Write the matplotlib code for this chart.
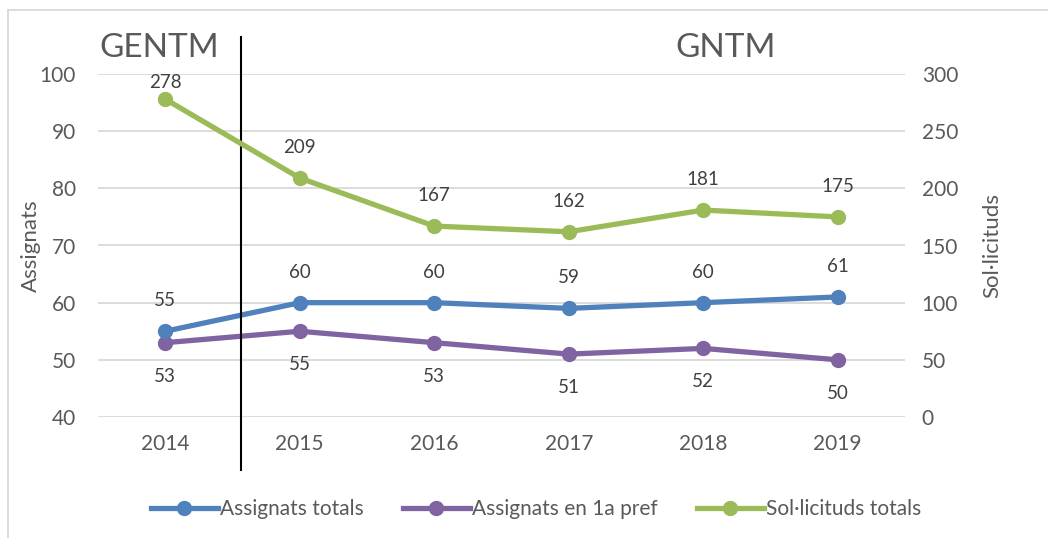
import numpy as np
import matplotlib.pyplot as plt
from matplotlib.lines import Line2D

years = ['2014', '2015', '2016', '2017', '2018', '2019']
assignats_totals = [55, 60, 60, 59, 60, 61]
assignats_1a_pref = [53, 55, 53, 51, 52, 50]
sollicituds_totals = [278, 209, 167, 162, 181, 175]

BLUE = '#4F81BD'
PURPLE = '#8064A2'
GREEN = '#9BBB59'
TXT = '#595959'
GRID = '#D9D9D9'

plt.rcParams['font.family'] = ['Lato', 'DejaVu Sans']

fig = plt.figure(figsize=(10.48, 5.38), dpi=100)
ax = fig.add_axes([98 / 1048, 1 - 417 / 538, 807 / 1048, 343 / 538])
ax2 = ax.twinx()

x = np.arange(len(years))

ax.set_xlim(-0.5, len(years) - 0.5)
ax.set_ylim(40, 100)
ax.set_yticks(range(40, 101, 10))
ax2.set_ylim(0, 300)
ax2.set_yticks(range(0, 301, 50))
ax.set_xticks(x)
ax.set_xticklabels(years)

ax.grid(axis='y', color=GRID, lw=1.3)
ax.set_axisbelow(True)
for a in (ax, ax2):
    for s in a.spines.values():
        s.set_visible(False)
    a.tick_params(length=0, labelsize=15, colors=TXT)
ax.tick_params(axis='x', pad=12)
ax.tick_params(axis='y', pad=16)
ax2.tick_params(axis='y', pad=12)

ax.set_ylabel('Assignats', fontsize=16, color=TXT)
ax2.set_ylabel('Sol·licituds', fontsize=16, color=TXT)
ax.yaxis.set_label_coords((41 - 98) / 807, 0.5)
ax2.yaxis.set_label_coords((982 - 98) / 807, 0.5)

kw = dict(lw=3.8, marker='o', markersize=10, solid_capstyle='round', clip_on=False)
ax.plot(x, assignats_totals, color=BLUE, zorder=4, **kw)
ax.plot(x, assignats_1a_pref, color=PURPLE, zorder=3, **kw)
ax2.plot(x, sollicituds_totals, color=GREEN, zorder=3, **kw)

lab = dict(ha='center', va='center', fontsize=13.5, color='#404040', textcoords='offset points')
for i in x:
    ax.annotate(str(assignats_totals[i]), (i, assignats_totals[i]), xytext=(0, 22), **lab)
    ax.annotate(str(assignats_1a_pref[i]), (i, assignats_1a_pref[i]), xytext=(0, -24), **lab)
    dy = 12 if i == 0 else 22
    ax2.annotate(str(sollicituds_totals[i]), (i, sollicituds_totals[i]), xytext=(0, dy), **lab)

# separator between GENTM and GNTM
ax.axvline(0.565, ymin=(470 - 417) / -343, ymax=(417 - 37) / 343, color='black', lw=1.5,
           clip_on=False, zorder=5)
fig.text(99 / 1048, 1 - 48 / 538, 'GENTM', fontsize=24, color=TXT, va='center', ha='left')
fig.text(675 / 1048, 1 - 48 / 538, 'GNTM', fontsize=24, color=TXT, va='center', ha='left')

# chart frame (only top and left edge visible)
fig.add_artist(Line2D([8 / 1048, 8 / 1048], [0, 1 - 10 / 538], color=GRID, lw=1.3))
fig.add_artist(Line2D([8 / 1048, 1], [1 - 10 / 538, 1 - 10 / 538], color=GRID, lw=1.3))

handles = [Line2D([], [], color=c, lw=3.8, marker='o', markersize=10) for c in (BLUE, PURPLE, GREEN)]
fig.legend(handles, ['Assignats totals', 'Assignats en 1a pref', 'Sol·licituds totals'],
           loc='center', bbox_to_anchor=(536 / 1048, 1 - 509 / 538), ncol=3, frameon=False,
           fontsize=15, labelcolor=TXT, handlelength=3.2, handletextpad=0.1, columnspacing=1.9)

fig.savefig('out.png', dpi=100)
